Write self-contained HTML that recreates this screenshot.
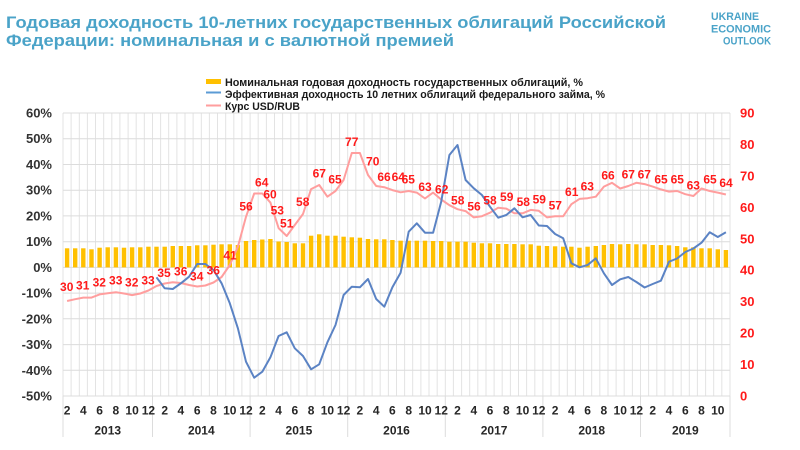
<!DOCTYPE html>
<html><head><meta charset="utf-8"><style>
html,body{margin:0;padding:0;background:#fff;}
svg{display:block;}
text{font-family:"Liberation Sans","DejaVu Sans",sans-serif;}
</style></head><body>
<svg width="800" height="450" viewBox="0 0 800 450" xmlns="http://www.w3.org/2000/svg">
<rect width="800" height="450" fill="#fff"/>
<!-- Title -->
<text x="6" y="28" font-size="17" font-weight="bold" fill="#4AA3C8" textLength="660" lengthAdjust="spacingAndGlyphs">Годовая доходность 10-летних государственных облигаций Российской</text>
<text x="6" y="46" font-size="17" font-weight="bold" fill="#4AA3C8" textLength="448" lengthAdjust="spacingAndGlyphs">Федерации: номинальная и с валютной премией</text>
<!-- Logo -->
<g font-size="11" font-weight="bold" fill="#4AA3C8">
<text x="711" y="19.8" textLength="48" lengthAdjust="spacingAndGlyphs">UKRAINE</text>
<text x="711" y="32.3" textLength="60" lengthAdjust="spacingAndGlyphs">ECONOMIC</text>
<text x="723" y="44.7" textLength="48" lengthAdjust="spacingAndGlyphs">OUTLOOK</text>
</g>
<!-- Legend -->
<rect x="206" y="79" width="15" height="5" fill="#FFC000"/>
<line x1="206" y1="92.5" x2="221" y2="92.5" stroke="#5B9BD5" stroke-width="2"/>
<line x1="206" y1="105.5" x2="221" y2="105.5" stroke="#FF9E9E" stroke-width="2"/>
<g font-size="11" font-weight="bold" fill="#1a1a1a">
<text x="225" y="86" textLength="358" lengthAdjust="spacingAndGlyphs">Номинальная годовая доходность государственных облигаций, %</text>
<text x="225" y="98" textLength="380" lengthAdjust="spacingAndGlyphs">Эффективная доходность 10 летних облигаций федерального займа, %</text>
<text x="225" y="110" textLength="75" lengthAdjust="spacingAndGlyphs">Курс USD/RUB</text>
</g>
<!-- Vertical gridlines -->
<path stroke="#e3e3e3" stroke-width="1" fill="none" d="M63,113V396M71.1,113V396M79.3,113V396M87.4,113V396M95.5,113V396M103.7,113V396M111.8,113V396M119.9,113V396M128.1,113V396M136.2,113V396M144.3,113V396M152.5,113V396M160.6,113V396M168.7,113V396M176.9,113V396M185,113V396M193.1,113V396M201.3,113V396M209.4,113V396M217.5,113V396M225.7,113V396M233.8,113V396M241.9,113V396M250.1,113V396M258.2,113V396M266.4,113V396M274.5,113V396M282.6,113V396M290.8,113V396M298.9,113V396M307,113V396M315.2,113V396M323.3,113V396M331.4,113V396M339.6,113V396M347.7,113V396M355.8,113V396M364,113V396M372.1,113V396M380.2,113V396M388.4,113V396M396.5,113V396M404.6,113V396M412.7,113V396M420.9,113V396M429,113V396M437.2,113V396M445.3,113V396M453.4,113V396M461.6,113V396M469.7,113V396M477.8,113V396M486,113V396M494.1,113V396M502.2,113V396M510.4,113V396M518.5,113V396M526.6,113V396M534.8,113V396M542.9,113V396M551,113V396M559.2,113V396M567.3,113V396M575.4,113V396M583.6,113V396M591.7,113V396M599.8,113V396M608,113V396M616.1,113V396M624.2,113V396M632.4,113V396M640.5,113V396M648.6,113V396M656.8,113V396M664.9,113V396M673,113V396M681.2,113V396M689.3,113V396M697.4,113V396M705.6,113V396M713.7,113V396M721.8,113V396M730,113V396"/>
<!-- Horizontal gridlines -->
<path stroke="#dcdcdc" stroke-width="1" fill="none" d="M63,113H730M63,138.7H730M63,164.5H730M63,190.2H730M63,215.9H730M63,241.7H730M63,267.4H730M63,293.1H730M63,318.8H730M63,344.6H730M63,370.3H730M63,396H730"/>
<!-- Year separators -->
<path stroke="#dcdcdc" stroke-width="1" fill="none" d="M63,396V437M152.5,396V437M250.1,396V437M347.7,396V437M445.3,396V437M542.9,396V437M640.5,396V437M730,396V437"/>
<!-- Bars -->
<g fill="#FFC000">
<rect x="64.9" y="248.3" width="4.4" height="19.1"/>
<rect x="73.0" y="248.3" width="4.4" height="19.1"/>
<rect x="81.1" y="248.3" width="4.4" height="19.1"/>
<rect x="89.3" y="249.3" width="4.4" height="18.1"/>
<rect x="97.4" y="247.7" width="4.4" height="19.7"/>
<rect x="105.5" y="247.3" width="4.4" height="20.1"/>
<rect x="113.7" y="247.3" width="4.4" height="20.1"/>
<rect x="121.8" y="247.7" width="4.4" height="19.7"/>
<rect x="129.9" y="247.3" width="4.4" height="20.1"/>
<rect x="138.1" y="247.3" width="4.4" height="20.1"/>
<rect x="146.2" y="246.7" width="4.4" height="20.7"/>
<rect x="154.3" y="246.7" width="4.4" height="20.7"/>
<rect x="162.5" y="246.7" width="4.4" height="20.7"/>
<rect x="170.6" y="246" width="4.4" height="21.4"/>
<rect x="178.7" y="246" width="4.4" height="21.4"/>
<rect x="186.9" y="246" width="4.4" height="21.4"/>
<rect x="195.0" y="245.3" width="4.4" height="22.1"/>
<rect x="203.2" y="245.3" width="4.4" height="22.1"/>
<rect x="211.3" y="244.7" width="4.4" height="22.7"/>
<rect x="219.4" y="244.3" width="4.4" height="23.1"/>
<rect x="227.6" y="244.3" width="4.4" height="23.1"/>
<rect x="235.7" y="245" width="4.4" height="22.4"/>
<rect x="243.8" y="241" width="4.4" height="26.4"/>
<rect x="252.0" y="240" width="4.4" height="27.4"/>
<rect x="260.1" y="239.5" width="4.4" height="27.9"/>
<rect x="268.2" y="239" width="4.4" height="28.4"/>
<rect x="276.4" y="241.5" width="4.4" height="25.9"/>
<rect x="284.5" y="242" width="4.4" height="25.4"/>
<rect x="292.6" y="243.3" width="4.4" height="24.1"/>
<rect x="300.8" y="243.3" width="4.4" height="24.1"/>
<rect x="308.9" y="235.7" width="4.4" height="31.7"/>
<rect x="317.0" y="234.3" width="4.4" height="33.1"/>
<rect x="325.2" y="235.7" width="4.4" height="31.7"/>
<rect x="333.3" y="235.7" width="4.4" height="31.7"/>
<rect x="341.4" y="236.7" width="4.4" height="30.7"/>
<rect x="349.6" y="237.3" width="4.4" height="30.1"/>
<rect x="357.7" y="237.7" width="4.4" height="29.7"/>
<rect x="365.8" y="239" width="4.4" height="28.4"/>
<rect x="374.0" y="239.3" width="4.4" height="28.1"/>
<rect x="382.1" y="239.3" width="4.4" height="28.1"/>
<rect x="390.2" y="240" width="4.4" height="27.4"/>
<rect x="398.4" y="240.7" width="4.4" height="26.7"/>
<rect x="406.5" y="240.7" width="4.4" height="26.7"/>
<rect x="414.6" y="240.7" width="4.4" height="26.7"/>
<rect x="422.8" y="240.7" width="4.4" height="26.7"/>
<rect x="430.9" y="241" width="4.4" height="26.4"/>
<rect x="439.0" y="241" width="4.4" height="26.4"/>
<rect x="447.2" y="241.7" width="4.4" height="25.7"/>
<rect x="455.3" y="241.7" width="4.4" height="25.7"/>
<rect x="463.4" y="241.7" width="4.4" height="25.7"/>
<rect x="471.6" y="242.7" width="4.4" height="24.7"/>
<rect x="479.7" y="243.3" width="4.4" height="24.1"/>
<rect x="487.8" y="243.3" width="4.4" height="24.1"/>
<rect x="496.0" y="244" width="4.4" height="23.4"/>
<rect x="504.1" y="244" width="4.4" height="23.4"/>
<rect x="512.2" y="244" width="4.4" height="23.4"/>
<rect x="520.4" y="244.3" width="4.4" height="23.1"/>
<rect x="528.5" y="244.3" width="4.4" height="23.1"/>
<rect x="536.6" y="245.7" width="4.4" height="21.7"/>
<rect x="544.8" y="246" width="4.4" height="21.4"/>
<rect x="552.9" y="246.3" width="4.4" height="21.1"/>
<rect x="561.0" y="246.7" width="4.4" height="20.7"/>
<rect x="569.2" y="246.7" width="4.4" height="20.7"/>
<rect x="577.3" y="247.7" width="4.4" height="19.7"/>
<rect x="585.4" y="246.7" width="4.4" height="20.7"/>
<rect x="593.6" y="246" width="4.4" height="21.4"/>
<rect x="601.7" y="245" width="4.4" height="22.4"/>
<rect x="609.8" y="244" width="4.4" height="23.4"/>
<rect x="618.0" y="244.3" width="4.4" height="23.1"/>
<rect x="626.1" y="244" width="4.4" height="23.4"/>
<rect x="634.2" y="244.3" width="4.4" height="23.1"/>
<rect x="642.4" y="244.3" width="4.4" height="23.1"/>
<rect x="650.5" y="245" width="4.4" height="22.4"/>
<rect x="658.7" y="245" width="4.4" height="22.4"/>
<rect x="666.8" y="245.3" width="4.4" height="22.1"/>
<rect x="674.9" y="246" width="4.4" height="21.4"/>
<rect x="683.1" y="247.3" width="4.4" height="20.1"/>
<rect x="691.2" y="247.3" width="4.4" height="20.1"/>
<rect x="699.3" y="248.3" width="4.4" height="19.1"/>
<rect x="707.5" y="248.3" width="4.4" height="19.1"/>
<rect x="715.6" y="249.3" width="4.4" height="18.1"/>
<rect x="723.7" y="250" width="4.4" height="17.4"/>
</g>
<!-- Pink line USD/RUB -->
<polyline fill="none" stroke="#FF9E9E" stroke-width="2" stroke-linejoin="round" points="67.1,301 75.2,299.2 83.3,297.6 91.5,297.6 99.6,294.4 107.7,293.2 115.9,292.2 124,293.5 132.1,295.1 140.3,293.5 148.4,290.5 156.5,286 164.7,283.5 172.8,282.3 180.9,283 189.1,285 197.2,286.5 205.4,285.5 213.5,282.5 221.6,277 229.8,265 237.9,246.7 246,216.8 254.2,193.5 262.3,193.5 270.4,202.6 278.6,228.1 286.7,236 294.8,225 303,214 311.1,189.1 319.2,185 327.4,196.7 335.5,191 343.6,180 351.8,153 359.9,153 368,175 376.2,186 384.3,187.2 392.4,190.1 400.6,192.3 408.7,191 416.8,192.6 425,198.5 433.1,192.6 441.2,199.5 449.4,205.2 457.5,209.2 465.6,211.1 473.8,217.4 481.9,216.2 490,212.7 498.2,207.7 506.3,208.6 514.4,213.3 522.6,213.3 530.7,209.9 538.8,210.8 547,217.4 555.1,216.2 563.2,216.2 571.4,204.2 579.5,198.9 587.6,198.2 595.8,196.7 603.9,186.6 612,182.8 620.2,188.5 628.3,186 636.4,182.8 644.6,184.1 652.7,186.6 660.9,189.4 669,191.6 677.1,191 685.3,194.2 693.4,196 701.5,188.5 709.7,191 717.8,192.6 725.9,194.5"/>
<!-- Blue line -->
<polyline fill="none" stroke="#5B83C4" stroke-width="2" stroke-linejoin="round" points="156.5,277.3 164.7,288.3 172.8,289 180.9,283.3 189.1,276.7 197.2,264 205.4,264 213.5,270 221.6,283.3 229.8,303.3 237.9,328.3 246,361.7 254.2,377.7 262.3,371.7 270.4,357.3 278.6,336 286.7,332.3 294.8,348.3 303,356 311.1,369.3 319.2,364.3 327.4,342.3 335.5,325 343.6,295 351.8,286.7 359.9,287.3 368,279 376.2,299 384.3,306.7 392.4,287.3 400.6,272.7 408.7,231.7 416.8,223.3 425,232.7 433.1,232.7 441.2,201.7 449.4,155 457.5,145 465.6,180 473.8,188.3 481.9,195 490,206.7 498.2,217.7 506.3,215 514.4,208.3 522.6,217.3 530.7,215 538.8,225.5 547,226 555.1,234 563.2,238.3 571.4,263.3 579.5,267.3 587.6,265 595.8,258.3 603.9,273.3 612,285 620.2,279.3 628.3,277 636.4,282 644.6,287.5 652.7,284 660.9,280.7 669,261.7 677.1,258.5 685.3,252 693.4,248.5 701.5,242.7 709.7,232.3 717.8,237 725.9,232.3"/>
<!-- Data labels -->
<g font-size="12" font-weight="bold" fill="#FF1A1A" text-anchor="middle">
<text x="66.7" y="291">30</text>
<text x="82.7" y="289.3">31</text>
<text x="99.3" y="286.3">32</text>
<text x="115.7" y="284.3">33</text>
<text x="131.7" y="286.3">32</text>
<text x="148" y="284.3">33</text>
<text x="164" y="277">35</text>
<text x="180.7" y="275.3">36</text>
<text x="196.7" y="280.3">34</text>
<text x="213.3" y="274.3">36</text>
<text x="230" y="259.3">41</text>
<text x="246" y="210.3">56</text>
<text x="261.7" y="186.3">64</text>
<text x="270" y="198.3">60</text>
<text x="277.3" y="214.3">53</text>
<text x="286.7" y="227.3">51</text>
<text x="302.7" y="206">58</text>
<text x="319.3" y="177.6">67</text>
<text x="335" y="183.6">65</text>
<text x="351.7" y="146">77</text>
<text x="372.7" y="165.3">70</text>
<text x="384" y="181">66</text>
<text x="398.3" y="181">64</text>
<text x="408.3" y="183.6">65</text>
<text x="425" y="191">63</text>
<text x="441.7" y="193.6">62</text>
<text x="457.7" y="204.3">58</text>
<text x="474" y="210.3">56</text>
<text x="490" y="204.3">58</text>
<text x="506.7" y="201">59</text>
<text x="523.3" y="206">58</text>
<text x="539.3" y="203.3">59</text>
<text x="555.3" y="209.3">57</text>
<text x="571.7" y="196">61</text>
<text x="587.3" y="190.3">63</text>
<text x="608" y="179.3">66</text>
<text x="628.3" y="178.6">67</text>
<text x="644.3" y="178.6">67</text>
<text x="661" y="183.6">65</text>
<text x="677.3" y="183.6">65</text>
<text x="693.3" y="189.3">63</text>
<text x="710" y="183.6">65</text>
<text x="726" y="187">64</text>
</g>
<!-- Left axis -->
<g font-size="13" font-weight="bold" fill="#333" text-anchor="end">
<text x="52" y="117.5">60%</text>
<text x="52" y="143.2">50%</text>
<text x="52" y="169">40%</text>
<text x="52" y="194.7">30%</text>
<text x="52" y="220.4">20%</text>
<text x="52" y="246.2">10%</text>
<text x="52" y="271.9">0%</text>
<text x="52" y="297.6">-10%</text>
<text x="52" y="323.3">-20%</text>
<text x="52" y="349.1">-30%</text>
<text x="52" y="374.8">-40%</text>
<text x="52" y="400.5">-50%</text>
</g>
<!-- Right axis -->
<g font-size="13" font-weight="bold" fill="#FF1A1A" text-anchor="start">
<text x="740" y="117.5">90</text>
<text x="740" y="148.9">80</text>
<text x="740" y="180.4">70</text>
<text x="740" y="211.8">60</text>
<text x="740" y="243.3">50</text>
<text x="740" y="274.7">40</text>
<text x="740" y="306.1">30</text>
<text x="740" y="337.6">20</text>
<text x="740" y="369">10</text>
<text x="740" y="400.5">0</text>
</g>
<!-- Month labels -->
<g font-size="12" font-weight="bold" fill="#262626" text-anchor="middle">
<text x="67.1" y="414.5">2</text><text x="83.3" y="414.5">4</text><text x="99.6" y="414.5">6</text><text x="115.9" y="414.5">8</text><text x="132.1" y="414.5">10</text><text x="148.4" y="414.5">12</text>
<text x="164.7" y="414.5">2</text><text x="180.9" y="414.5">4</text><text x="197.2" y="414.5">6</text><text x="213.5" y="414.5">8</text><text x="229.8" y="414.5">10</text><text x="246" y="414.5">12</text>
<text x="262.3" y="414.5">2</text><text x="278.6" y="414.5">4</text><text x="294.8" y="414.5">6</text><text x="311.1" y="414.5">8</text><text x="327.4" y="414.5">10</text><text x="343.6" y="414.5">12</text>
<text x="359.9" y="414.5">2</text><text x="376.2" y="414.5">4</text><text x="392.4" y="414.5">6</text><text x="408.7" y="414.5">8</text><text x="425" y="414.5">10</text><text x="441.2" y="414.5">12</text>
<text x="457.5" y="414.5">2</text><text x="473.8" y="414.5">4</text><text x="490" y="414.5">6</text><text x="506.3" y="414.5">8</text><text x="522.6" y="414.5">10</text><text x="538.8" y="414.5">12</text>
<text x="555.1" y="414.5">2</text><text x="571.4" y="414.5">4</text><text x="587.6" y="414.5">6</text><text x="603.9" y="414.5">8</text><text x="620.2" y="414.5">10</text><text x="636.4" y="414.5">12</text>
<text x="652.7" y="414.5">2</text><text x="669" y="414.5">4</text><text x="685.3" y="414.5">6</text><text x="701.5" y="414.5">8</text><text x="717.8" y="414.5">10</text>
</g>
<!-- Year labels -->
<g font-size="12" font-weight="bold" fill="#262626" text-anchor="middle">
<text x="107.7" y="434.5">2013</text>
<text x="201.3" y="434.5">2014</text>
<text x="298.9" y="434.5">2015</text>
<text x="396.5" y="434.5">2016</text>
<text x="494.1" y="434.5">2017</text>
<text x="591.7" y="434.5">2018</text>
<text x="685.3" y="434.5">2019</text>
</g>
</svg>
</body></html>
